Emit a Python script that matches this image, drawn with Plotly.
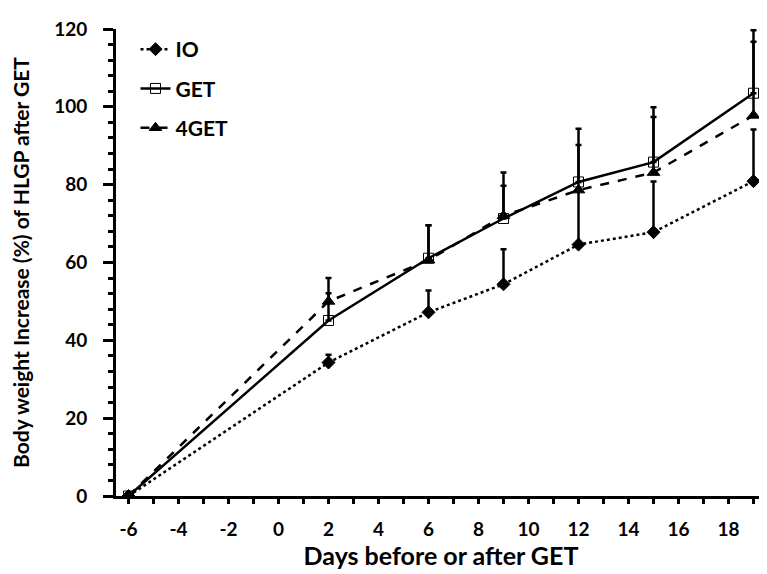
import plotly.graph_objects as go

days = [-6, 2, 6, 9, 12, 15, 19]
io_vals = [0, 34.3, 47.2, 54.4, 64.6, 67.8, 80.9]
io_err = [0, 2.0, 5.6, 9.0, 14.0, 13.0, 13.3]
get_vals = [0, 45.1, 61.1, 71.3, 80.7, 85.8, 103.5]
get_err = [0, 7.0, 8.5, 11.8, 13.7, 14.1, 16.2]
get4_vals = [0, 50.0, 60.6, 72.0, 78.6, 83.1, 97.8]
get4_err = [0, 6.0, 9.0, 7.7, 11.6, 14.3, 18.9]
zeros = [0] * len(days)

x_tickvals = [-6, -4, -2, 0, 2, 4, 6, 8, 10, 12, 14, 16, 18]
x_ticklabels = ["-6", "-4", "-2", "0", "2", "4", "6", "8", "10", "12", "14", "16", "18"]
y_tickvals = [0, 20, 40, 60, 80, 100, 120]
y_ticklabels = ["0", "20", "40", "60", "80", "100", "120"]

FONT = "Lato"
fig = go.Figure()

def add(name, y, err, dash, symbol, msize, group):
    fig.add_trace(go.Scatter(
        x=days, y=y, name="<b>" + name + "</b>", mode="lines+markers",
        line=dict(color="black", width=2.5, dash=dash),
        marker=dict(symbol=symbol, size=msize, color="black",
                    line=dict(color="black", width=1)),
        error_y=dict(type="data", array=err, arrayminus=zeros, symmetric=False,
                     color="black", thickness=2.5, width=3),
        legendgroup=group,
    ))

add("IO", io_vals, io_err, "dot", "diamond", 10, "a")
add("GET", get_vals, get_err, "solid", "square-open", 10, "b")
add("4GET", get4_vals, get4_err, "dash", "triangle-up", 11, "c")

fig.update_layout(
    width=767, height=574,
    margin=dict(l=108, r=9, t=17, b=86),
    plot_bgcolor="white", paper_bgcolor="white",
    font=dict(family=FONT, color="black", size=19),
    showlegend=True,
    legend=dict(x=0.03, y=1.0, xanchor="left", yanchor="top",
                traceorder="grouped", tracegroupgap=9,
                font=dict(family=FONT, size=21, color="black"),
                bgcolor="rgba(0,0,0,0)"),
    xaxis=dict(
        range=[-6.5, 19.5],
        tickmode="array", tickvals=x_tickvals,
        ticktext=["<b>" + t + "</b>" for t in x_ticklabels],
        showline=True, linecolor="black", linewidth=3,
        ticks="outside", ticklen=5, tickwidth=2.5, tickcolor="black",
        minor=dict(dtick=1, tick0=-6, ticks="outside", ticklen=5, tickwidth=2.5, tickcolor="black"),
        showgrid=False, zeroline=False, ticklabelstandoff=9,
        tickfont=dict(family=FONT, size=19),
        title=dict(text="<b>Days before or after GET</b>", standoff=2,
                   font=dict(family=FONT, size=25)),
    ),
    yaxis=dict(
        range=[0, 120],
        tickmode="array", tickvals=y_tickvals,
        ticktext=["<b>" + t + "</b>" for t in y_ticklabels],
        showline=True, linecolor="black", linewidth=3,
        ticks="outside", ticklen=10, tickwidth=2.5, tickcolor="black",
        minor=dict(dtick=4, ticks="outside", ticklen=5, tickwidth=2.5, tickcolor="black"),
        showgrid=False, zeroline=False, ticklabelstandoff=12,
        tickfont=dict(family=FONT, size=19),
        title=dict(text="<b>Body weight Increase (%) of HLGP after GET</b>", standoff=22,
                   font=dict(family=FONT, size=21)),
    ),
)

fig.write_html("out.html")
